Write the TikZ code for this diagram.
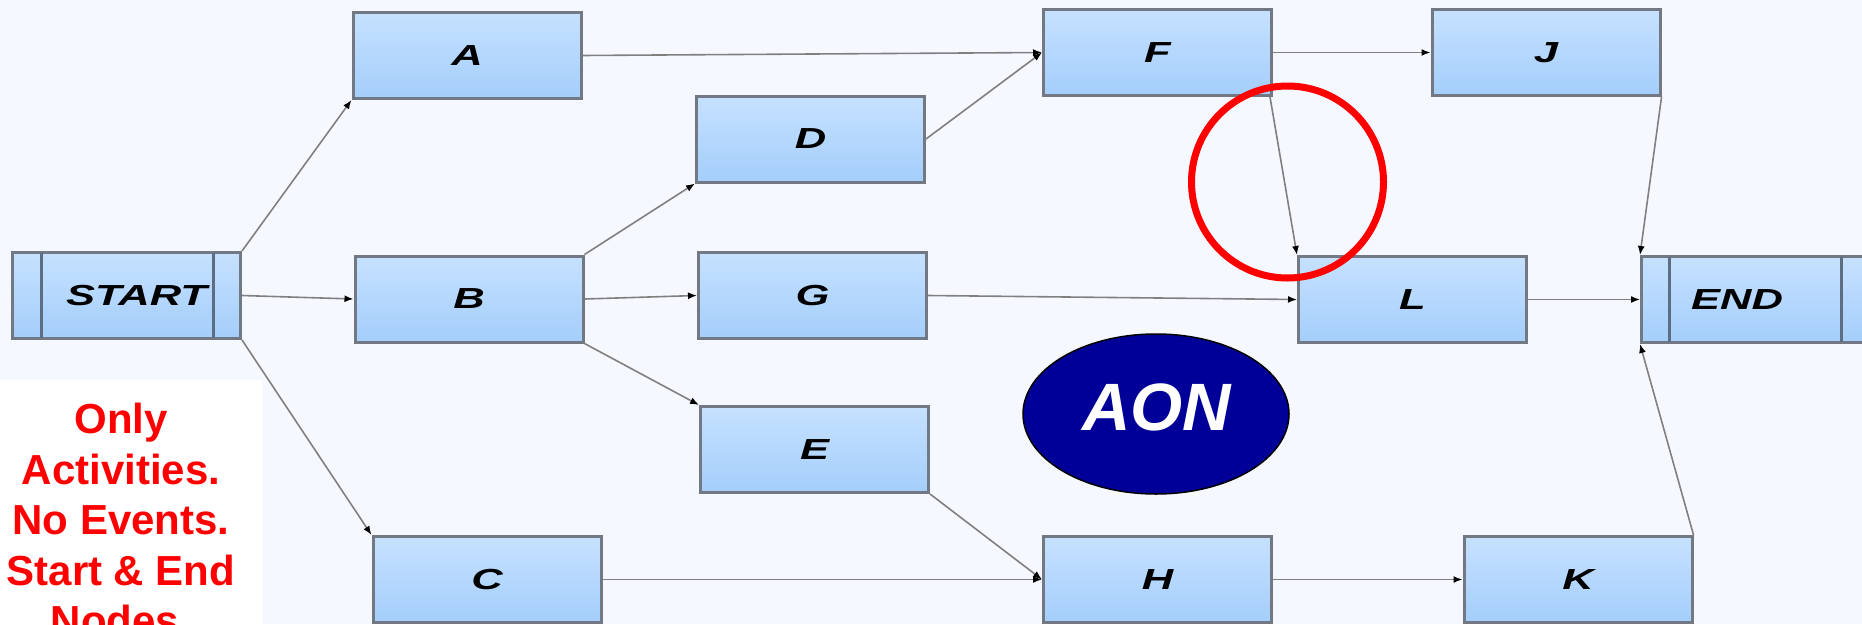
\documentclass[tikz,border=0pt]{standalone}
\usepackage{fontspec}
\setmainfont{Liberation Sans}
\usetikzlibrary{arrows.meta,shapes.geometric}

\definecolor{pagebg}{RGB}{245,249,255}
\definecolor{boxtop}{RGB}{198,225,255}
\definecolor{boxbot}{RGB}{164,206,251}
\definecolor{boxline}{RGB}{114,121,132}
\definecolor{divline}{RGB}{93,110,131}
\definecolor{linkgray}{RGB}{128,128,128}
\definecolor{aonblue}{RGB}{0,0,153}
\definecolor{notered}{RGB}{255,0,0}

% activity labels are set wide, stretched horizontally
\newcommand{\actlabel}[1]{\scalebox{1.5}[1]{\bfseries\itshape #1}}

\tikzset{
  activity/.style={draw=boxline, line width=3pt, top color=boxtop, bottom color=boxbot,
    minimum width=228pt, minimum height=86pt, inner sep=0pt,
    font=\fontsize{29}{29}\selectfont},
  link/.style={draw=linkgray, line width=1.6pt,
    -{Latex[length=9pt,width=7pt,color=black]}},
  noteline/.style={text=notered, font=\fontsize{42}{42}\selectfont\bfseries, anchor=base, inner sep=0pt},
  divider/.style={draw=divline, line width=3pt}
}

\begin{document}
\begin{tikzpicture}[x=1pt,y=-1pt]
  \useasboundingbox (0,0) rectangle (1862,624);
  \clip (0,0) rectangle (1862,624);
  \fill[pagebg] (0,0) rectangle (1862,624);

  % activity nodes
  \node[activity] (start) at (126.5,295.5) {\hspace*{20pt}\actlabel{START}};
  \node[activity] (A) at (467,55.5)    {\actlabel{A}};
  \node[activity] (D) at (810.5,139)   {\actlabel{D}};
  \node[activity] (F) at (1157.5,52.5) {\actlabel{F}};
  \node[activity] (J) at (1546,52.5)   {\actlabel{J}};
  \node[activity] (B) at (469,299)     {\actlabel{B}};
  \node[activity] (G) at (812.5,295.5) {\actlabel{G}};
  \node[activity] (L) at (1412.5,299.5){\actlabel{L}};
  \node[activity] (end) at (1755.5,299.5) {\actlabel{END}\hspace*{37pt}};
  \node[activity] (E) at (814.5,449.5) {\actlabel{E}};
  \node[activity] (C) at (487,579.5)   {\actlabel{C}};
  \node[activity] (H) at (1157.5,579.5){\actlabel{H}};
  \node[activity] (K) at (1578,579.5)  {\actlabel{K}};

  % inner bars of the terminal nodes
  \draw[divider] (41,253) -- (41,338);
  \draw[divider] (213,253) -- (213,338);
  \draw[divider] (1669,257) -- (1669,342);
  \draw[divider] (1841,257) -- (1841,342);

  % dependencies
  \draw[link] (start.north east) -- (A.south west);
  \draw[link] (start.east) -- (B.west);
  \draw[link] (start.south east) -- (C.north west);
  \draw[link] (A.east) -- (F.west);
  \draw[link] (B.north east) -- (D.south west);
  \draw[link] (B.east) -- (G.west);
  \draw[link] (B.south east) -- (E.north west);
  \draw[link] (D.east) -- (F.west);
  \draw[link] (F.east) -- (J.west);
  \draw[link] ([xshift=-3pt]F.south east) -- (L.north west);
  \draw[link] (G.east) -- (L.west);
  \draw[link] (L.east) -- (end.west);
  \draw[link] (J.south east) -- (end.north west);
  \draw[link] (E.south east) -- (H.west);
  \draw[link] (C.east) -- (H.west);
  \draw[link] (H.east) -- (K.west);
  \draw[link] (K.north east) -- (end.south west);

  % highlight ring
  \draw[notered, line width=7pt] (1287.5,182) circle[radius=96];

  % AON badge
  \node[ellipse, draw=black, line width=1.5pt, fill=aonblue,
        minimum width=266pt, minimum height=160pt, inner sep=0pt] (aon) at (1156,414) {};
  \node[text=white, font=\fontsize{67}{67}\selectfont\bfseries\itshape, inner sep=0pt]
        (aontext) at (1156.5,407) {AON};

  % note panel
  \fill[white] (0,380) rectangle (263,624);
  \node[noteline] (n1) at (121,433.5) {Only};
  \node[noteline] (n2) at (121,484)   {Activities.};
  \node[noteline] (n3) at (121,534.5) {No Events.};
  \node[noteline] (n4) at (121,585)   {Start \& End};
  \node[noteline] (n5) at (121,635.5) {Nodes.};
\end{tikzpicture}
\end{document}
